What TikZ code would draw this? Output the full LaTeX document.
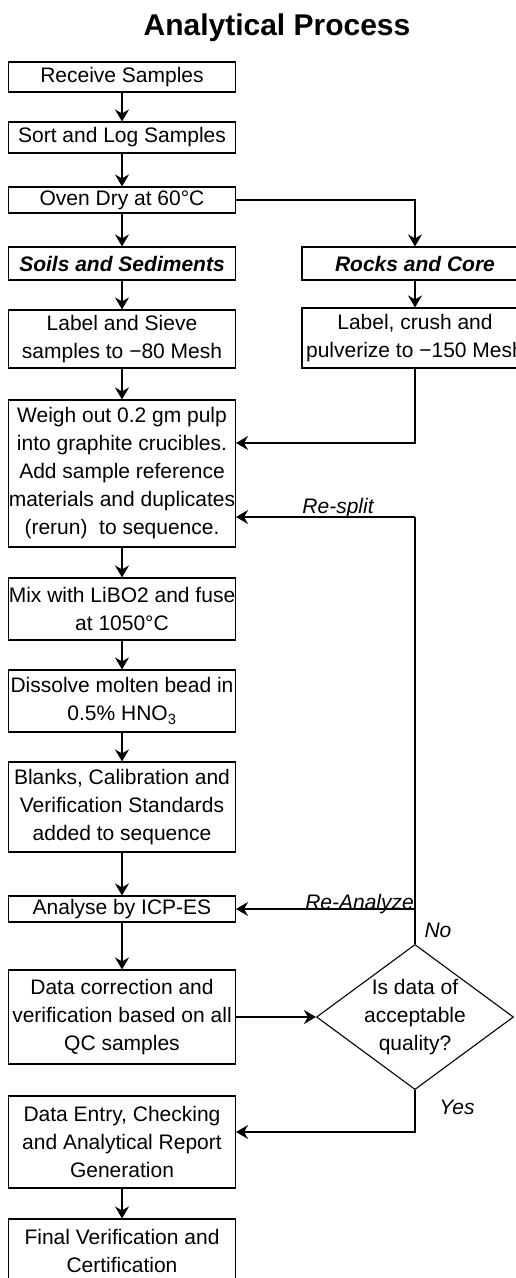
\documentclass[tikz,border=0pt]{standalone}
\usepackage{fontspec}
\setmainfont{Liberation Sans}
\usetikzlibrary{arrows.meta,shapes.geometric}

\begin{document}
\begin{tikzpicture}[x=1pt,y=-1pt,line width=1.6pt,>={Stealth[length=12pt,width=14pt,inset=4pt]},
  proc/.style={draw,line width=1.1pt,minimum width=227pt,inner xsep=0pt,inner ysep=1pt,align=center,font=\fontsize{21}{28}\selectfont},
  decide/.style={draw,diamond,line width=1.1pt,minimum width=197pt,minimum height=139pt,inner sep=-8pt,align=center,font=\fontsize{21}{28}\selectfont},
  tag/.style={inner sep=0pt,font=\fontsize{21}{28}\selectfont\itshape}]
  \useasboundingbox (0,0) rectangle (516,1278);
  \clip (0,0) rectangle (516,1278);
  \node[font=\fontsize{30}{34}\selectfont\bfseries] (title) at (277,28) {Analytical Process};
  % left column
  \node[proc,minimum height=30pt] (recv) at (122,77) {Receive Samples};
  \node[proc,minimum height=31pt] (sort) at (122,137.5) {Sort and Log Samples};
  \node[proc,minimum height=26pt] (oven) at (122,200) {Oven Dry at 60°C};
  \node[proc,minimum height=33pt,font=\fontsize{21}{28}\selectfont\bfseries\itshape] (soils) at (122,263.5) {Soils and Sediments};
  \node[proc,minimum height=58pt] (sieve) at (122,339) {Label and Sieve\\samples to −80 Mesh};
  \node[proc,minimum height=147pt] (weigh) at (122,473.5) {Weigh out 0.2 gm pulp\\into graphite crucibles.\\Add sample reference\\materials and duplicates\\(rerun)\ \ to sequence.};
  \node[proc,minimum height=62pt] (mix) at (122,609) {Mix with LiBO2 and fuse\\at 1050°C};
  \node[proc,minimum height=62pt] (diss) at (122,701) {Dissolve molten bead in\\0.5\% HNO\textsubscript{3}};
  \node[proc,minimum height=90pt] (blank) at (122,807) {Blanks, Calibration and\\Verification Standards\\added to sequence};
  \node[proc,minimum height=26pt] (ana) at (122,909) {Analyse by ICP-ES};
  \node[proc,minimum height=94pt] (corr) at (122,1017) {Data correction and\\verification based on all\\QC samples};
  \node[proc,minimum height=92pt] (entry) at (122,1142) {Data Entry, Checking\\and Analytical Report\\Generation};
  \node[proc,minimum height=64pt] (final) at (122,1251) {Final Verification and\\Certification};
  % right column
  \node[proc,minimum width=226pt,minimum height=33pt,font=\fontsize{21}{28}\selectfont\bfseries\itshape] (rocks) at (415,263.5) {Rocks and Core};
  \node[proc,minimum width=226pt,minimum height=60pt] (crush) at (415,338) {Label, crush and\\pulverize to −150 Mesh};
  \node[decide] (dec) at (415,1017) {Is data of\\acceptable\\quality?};
  \coordinate (rk) at (415,443);
  \coordinate (rs) at (415,517);
  \coordinate (ra) at (415,909);
  \coordinate (yp) at (415,1132);
  % flow
  \draw[->] (recv) -- (sort);
  \draw[->] (sort) -- (oven);
  \draw[->] (oven) -- (soils);
  \draw[->] (soils) -- (sieve);
  \draw[->] (sieve) -- (weigh);
  \draw[->] (weigh) -- (mix);
  \draw[->] (mix) -- (diss);
  \draw[->] (diss) -- (blank);
  \draw[->] (blank) -- (ana);
  \draw[->] (ana) -- (corr);
  \draw[->] (entry) -- (final);
  \draw[->] (oven.east) -| (rocks.north);
  \draw[->] (rocks) -- (crush);
  \draw[->] (crush.south) |- (weigh.east |- rk);
  \draw[->] (corr) -- (dec);
  % loops back
  \draw (dec.north) -- (rs);
  \draw[->] (rs) -- node[tag,pos=0.43,anchor=base,yshift=4pt]{Re-split} (weigh.east |- rs);
  \draw[->] (ra) -- node[tag,pos=0.31,anchor=base]{Re-Analyze} (ana.east |- ra);
  \node[tag] (no) at (438,930) {No};
  \draw[->] (dec.south) |- (entry.east |- yp);
  \node[tag] (yes) at (457,1107) {Yes};
\end{tikzpicture}
\end{document}
